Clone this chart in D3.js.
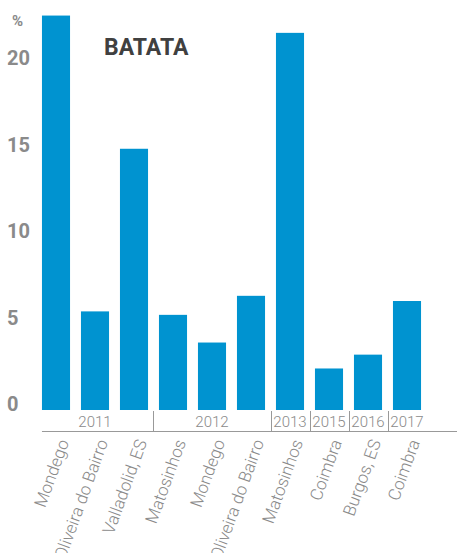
<!DOCTYPE html>
<html>
<head>
	<meta charset="utf-8">
	<title>Batata</title>
	<script src="https://d3js.org/d3.v7.min.js"></script>
	<style>
		body { margin: 0; background: #fff; }
		svg { display: block; }
	</style>
</head>
<body>
<div id="chart"></div>
<script type="text/javascript">

	// chart data
	var sites = ["Mondego", "Oliveira do Bairro", "Valladolid, ES", "Matosinhos", "Mondego",
		"Oliveira do Bairro", "Matosinhos", "Coimbra", "Burgos, ES", "Coimbra"];
	var years = ["2011", "2011", "2011", "2012", "2012", "2012", "2013", "2015", "2016", "2017"];
	var values = [22.8, 5.7, 15.1, 5.5, 3.9, 6.6, 21.8, 2.4, 3.2, 6.3];
	var yTicks = [0, 5, 10, 15, 20];

	var width = 457, height = 553;
	var grey = "#8a8a8a";

	var svg = d3.select("#chart").append("svg")
		.attr("width", width)
		.attr("height", height);

	var x = d3.scaleBand()
		.domain(d3.range(values.length))
		.range([36.5, 426.5])
		.paddingInner(0.28)
		.paddingOuter(0.14);

	var y = d3.scaleLinear()
		.domain([0, 20])
		.range([410, 64]);

	// bars
	svg.append("g").selectAll("rect")
		.data(values)
		.enter()
		.append("rect")
		.attr("x", function(d, i){ return x(i); })
		.attr("y", function(d){ return y(d); })
		.attr("width", x.bandwidth())
		.attr("height", function(d){ return y(0) - y(d); })
		.style("fill", "#0093d0");

	// y labels
	svg.append("g").selectAll("text")
		.data(yTicks)
		.enter()
		.append("text")
		.attr("x", 7)
		.attr("y", function(d){ return y(d) - 6; })
		.attr("dy", "0.35em")
		.style("font-family", "Roboto")
		.style("font-weight", "bold")
		.style("font-size", "20px")
		.style("fill", grey)
		.text(function(d){ return d; });

	svg.append("text")
		.attr("x", 12)
		.attr("y", 26)
		.style("font-family", "Roboto")
		.style("font-weight", "bold")
		.style("font-size", "15px")
		.style("fill", grey)
		.text("%");

	svg.append("text")
		.attr("x", 104)
		.attr("y", 55)
		.style("font-family", "Roboto")
		.style("font-weight", "bold")
		.style("font-size", "23px")
		.style("fill", "#404040")
		.text("BATATA");

	// year groups under the bars
	var axisY = 431;
	var half = x.step() / 2;
	var groups = [];
	years.forEach(function(yr, i){
		var last = groups[groups.length - 1];
		if (last && last.year == yr) last.end = i;
		else groups.push({year: yr, start: i, end: i});
	});

	svg.append("line")
		.attr("x1", x(0))
		.attr("x2", width)
		.attr("y1", axisY + 0.5)
		.attr("y2", axisY + 0.5)
		.style("stroke", "#999")
		.style("stroke-width", 1);

	var axis = svg.append("g");
	groups.forEach(function(g, k){
		var left = x(g.start) + x.bandwidth() / 2 - half;
		var right = x(g.end) + x.bandwidth() / 2 + half;
		if (k > 0) {
			axis.append("line")
				.attr("x1", Math.round(left) + 0.5)
				.attr("x2", Math.round(left) + 0.5)
				.attr("y1", 411)
				.attr("y2", axisY)
				.style("stroke", "#999");
		}
		axis.append("text")
			.attr("x", (left + right) / 2)
			.attr("y", 427)
			.attr("text-anchor", "middle")
			.style("font-family", "Roboto")
			.style("font-weight", 300)
			.style("font-size", "15px")
			.style("fill", grey)
			.text(g.year);
	});

	// rotated site names
	svg.append("g").selectAll("text")
		.data(sites)
		.enter()
		.append("text")
		.attr("transform", function(d, i){
			return "translate(" + (x(i) + x.bandwidth() / 2 + 2) + ",438) rotate(-70)";
		})
		.attr("text-anchor", "end")
		.attr("dy", "0.7em")
		.style("font-family", "Roboto")
		.style("font-weight", 300)
		.style("font-size", "17px")
		.style("fill", grey)
		.text(function(d){ return d; });

</script>
</body>
</html>
